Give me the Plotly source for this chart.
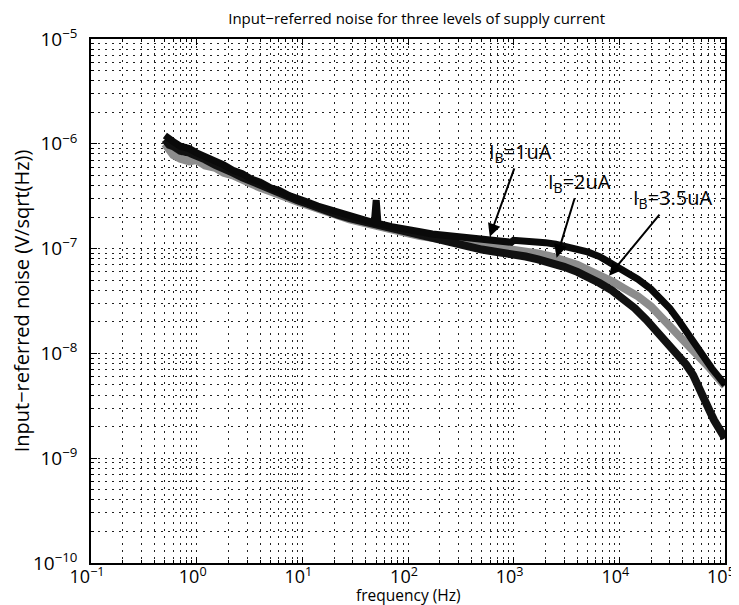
import math
import plotly.graph_objects as go

# frequency (Hz) and input-referred noise (V/sqrt(Hz))
freq_a = [0.5, 0.55, 0.6, 0.7, 0.85, 1, 1.2, 1.5, 1.8, 2.2, 2.7, 3.3, 4, 5, 6, 7.5, 9, 11, 14, 18, 22, 28,
          35, 45, 48, 50, 52, 70, 85, 100, 130, 170, 220, 300, 400, 500, 650, 800, 950,
          1000, 1200, 1500, 2000, 2500, 3000, 4000, 5000, 6500, 8000, 10000, 12500, 15000,
          20000, 25000, 30000, 36000, 43000, 52000, 62000, 75000, 88000, 100000]
noise_a = [1.2e-6, 1.1e-6, 1.05e-6, 9.5e-7, 9e-7, 8.2e-7, 7.6e-7, 6.8e-7, 6.3e-7, 5.6e-7, 5.2e-7, 4.6e-7,
           4.3e-7, 3.8e-7, 3.6e-7, 3.2e-7, 3.05e-7, 2.8e-7, 2.55e-7, 2.35e-7, 2.2e-7, 2.05e-7,
           1.95e-7, 1.8e-7, 1.76e-7, 2.9e-7, 1.74e-7, 1.62e-7, 1.55e-7, 1.5e-7, 1.45e-7, 1.38e-7,
           1.35e-7, 1.3e-7, 1.27e-7, 1.24e-7, 1.2e-7, 1.17e-7, 1.15e-7,
           1.2e-7, 1.19e-7, 1.17e-7, 1.14e-7, 1.1e-7, 1.06e-7, 1.0e-7, 9.3e-8, 8.4e-8, 7.5e-8, 6.6e-8,
           5.8e-8, 5.1e-8, 4.1e-8, 3.3e-8, 2.7e-8, 2.1e-8, 1.6e-8, 1.2e-8, 9.2e-9, 7.2e-9, 5.9e-9, 5.0e-9]

freq_b = [0.5, 0.55, 0.6, 0.7, 0.85, 1, 1.2, 1.5, 1.8, 2.2, 2.7, 3.3, 4, 5, 6, 7.5, 9, 11, 14, 18, 22, 28,
          35, 45, 55, 70, 85, 100, 130, 170, 220, 300, 400, 500, 650, 800, 1000, 1300, 1700, 2200,
          3000, 4000, 5000, 6500, 8800, 11000, 15000, 20000, 29000, 38000, 50000, 60000, 72000,
          85000, 100000]
noise_b = [1.0e-6, 8.5e-7, 7.8e-7, 7.2e-7, 6.8e-7, 7e-7, 6.2e-7, 5.9e-7, 5.3e-7, 5e-7, 4.5e-7, 4.2e-7,
           3.8e-7, 3.5e-7, 3.2e-7, 3.0e-7, 2.8e-7, 2.6e-7, 2.4e-7, 2.2e-7, 2.05e-7, 1.9e-7,
           1.8e-7, 1.68e-7, 1.6e-7, 1.5e-7, 1.45e-7, 1.4e-7, 1.32e-7, 1.27e-7, 1.22e-7, 1.17e-7, 1.12e-7,
           1.1e-7, 1.06e-7, 1.04e-7, 1.0e-7, 9.5e-8, 9e-8, 8.5e-8,
           7.8e-8, 7e-8, 6.3e-8, 5.6e-8, 4.8e-8, 4.2e-8, 3.5e-8, 2.8e-8, 1.9e-8, 1.45e-8, 1.1e-8,
           8.8e-9, 7.2e-9, 5.9e-9, 4.9e-9]

freq_c = [0.5, 0.55, 0.6, 0.7, 0.85, 1, 1.2, 1.5, 1.8, 2.2, 2.7, 3.3, 4, 5, 6, 7.5, 9, 11, 14, 18, 22, 28,
          35, 45, 55, 70, 85, 100, 130, 170, 220, 300, 400, 500, 650, 800, 1000, 1300, 1700, 2200,
          3000, 4000, 5000, 6500, 8500, 11000, 14000, 18000, 23000, 29000, 35000, 43000, 50000,
          57000, 65000, 72000, 79000, 88000, 100000]
noise_c = [1.1e-6, 9.8e-7, 9.5e-7, 8.6e-7, 8.2e-7, 7.8e-7, 7.1e-7, 6.3e-7, 5.9e-7, 5.3e-7, 4.8e-7, 4.4e-7,
           4.0e-7, 3.6e-7, 3.4e-7, 3.1e-7, 2.9e-7, 2.7e-7, 2.45e-7, 2.25e-7, 2.1e-7, 1.95e-7,
           1.85e-7, 1.72e-7, 1.62e-7, 1.52e-7, 1.46e-7, 1.4e-7, 1.3e-7, 1.22e-7, 1.15e-7, 1.08e-7, 1.02e-7,
           9.8e-8, 9.4e-8, 9.2e-8, 8.8e-8, 8.4e-8, 7.9e-8, 7.4e-8,
           6.7e-8, 6e-8, 5.4e-8, 4.7e-8, 4.0e-8, 3.3e-8, 2.7e-8, 2.1e-8, 1.6e-8, 1.25e-8, 1.0e-8,
           7.8e-9, 6.2e-9, 4.8e-9, 3.6e-9, 2.8e-9, 2.3e-9, 1.9e-9, 1.55e-9]

labels = ["I<sub>B</sub>=1uA", "I<sub>B</sub>=2uA", "I<sub>B</sub>=3.5uA"]
label_pos = [(1150, 8.3e-7), (4200, 4.3e-7), (32000, 3.0e-7)]
arrow_tip = [(594, 1.3e-7), (2550, 8.2e-8), (8000, 5.5e-8)]

decades = [-1, 0, 1, 2, 3, 4, 5]
x_ticktext = ["10<sup>%s</sup>" % str(d).replace("-", "\u2212") for d in decades]
y_decades = [-10, -9, -8, -7, -6, -5]
y_ticktext = ["10<sup>%s</sup>" % str(d).replace("-", "\u2212") for d in y_decades]

fig = go.Figure()
fig.add_trace(go.Scatter(x=freq_b, y=noise_b, mode="lines",
                         line=dict(color="#8c8c8c", width=8), name=labels[1]))
fig.add_trace(go.Scatter(x=freq_c, y=noise_c, mode="lines",
                         line=dict(color="#111111", width=8), name=labels[2]))
fig.add_trace(go.Scatter(x=freq_a, y=noise_a, mode="lines",
                         line=dict(color="#0a0a0a", width=7), name=labels[0]))

for txt, (tx, ty), (hx, hy) in zip(labels, label_pos, arrow_tip):
    fig.add_annotation(x=math.log10(hx), y=math.log10(hy), xref="x", yref="y",
                       ax=math.log10(tx), ay=math.log10(ty), axref="x", ayref="y",
                       text=txt, showarrow=True, arrowhead=2, arrowsize=1.3, arrowwidth=2,
                       arrowcolor="black", font=dict(size=20, color="black", family="Open Sans"))

# x-axis title placed by hand so it sits close under the tick labels
fig.add_annotation(x=0.5, y=1, xref="paper", yref="paper", yshift=-556, text="frequency (Hz)",
                   showarrow=False, yanchor="middle", font=dict(size=15.5, color="black"))

grid = dict(showgrid=True, gridcolor="#222222", griddash="2px,5px", gridwidth=1)
axis_common = dict(type="log", ticks="inside", ticklen=6, tickcolor="black", mirror="allticks",
                   showline=True, linecolor="black", linewidth=1.5, zeroline=False,
                   automargin=False, ticklabeloverflow="allow",
                   minor=dict(ticks="inside", ticklen=3, tickcolor="black", dtick="D1", **grid), **grid)

fig.update_layout(
    template="none",
    width=739, height=605,
    margin=dict(l=83, r=22, t=31, b=50),
    paper_bgcolor="white", plot_bgcolor="white",
    font=dict(family="Open Sans", color="black"),
    showlegend=False,
    title=dict(text="Input\u2212referred noise for three levels of supply current",
               x=0.553, xanchor="center", y=0.983, yanchor="middle", font=dict(size=15)),
    xaxis=dict(range=[-1.0005, 5.0005], tickvals=[10.0 ** d for d in decades], ticktext=x_ticktext,
               tickfont=dict(size=18, color="black"), ticklabelshift=-4, ticklabelstandoff=-3,
               **axis_common),
    yaxis=dict(range=[-10.0005, -4.9995], tickvals=[10.0 ** d for d in y_decades], ticktext=y_ticktext,
               tickfont=dict(size=19, color="black"), ticklabelstandoff=8,
               title=dict(text="Input\u2212referred noise (V/sqrt(Hz))", font=dict(size=20), standoff=8),
               **axis_common),
)

fig.write_html("out.html")
